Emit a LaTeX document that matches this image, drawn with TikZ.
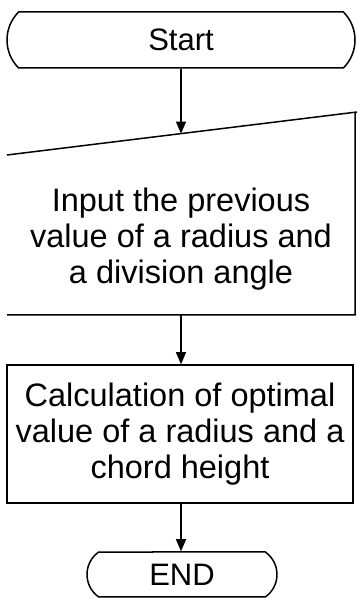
\documentclass[tikz,border=0pt]{standalone}
\usepackage{fontspec}
\setmainfont{Liberation Sans}
\usetikzlibrary{shapes.misc,arrows.meta}
\begin{document}
\begin{tikzpicture}[x=1pt,y=1pt,
  line width=1.5pt,
  term/.style={draw, rounded rectangle, inner sep=0pt, font=\fontsize{31}{36}\selectfont},
  txt/.style={align=center, inner sep=0pt, font=\fontsize{32.5}{36}\selectfont},
  arr/.style={-{Triangle[width=10pt,length=12pt]}, line width=1.3pt}]
\useasboundingbox (0,0) rectangle (357,606);
% Start
\node[term, minimum width=348pt, minimum height=56pt, rounded rectangle arc length=90] (start) at (181,566) {Start};
% manual input shape
\coordinate (inBL) at (7,291);
\coordinate (inBR) at (355,291);
\coordinate (inTR) at (357,494);
\coordinate (inTL) at (7,451);
\draw (inBL) -- (inBR) -- (355,494) (inTR) -- (inTL) -- cycle;
\coordinate (inTop) at (181,472.4);
\node[txt] (input) at (181,367) {Input the previous\\value of a radius and\\a division angle};
\coordinate (inBot) at (181,291);
% calculation box
\node[draw, minimum width=346pt, minimum height=138pt, inner sep=0pt] (calcbox) at (180,172) {};
\node[txt] (calc) at (calcbox.center) {Calculation of optimal\\value of a radius and a\\chord height};
% END
\node[term, minimum width=190pt, minimum height=45pt, rounded rectangle arc length=110] (end) at (182,31.5) {END};
% arrows
\draw[arr] (start.south) -- (inTop);
\draw[arr] (inBot) -- (calcbox.north -| inBot);
\draw[arr] (calcbox.south -| inBot) -- (end.north -| inBot);
\end{tikzpicture}
\end{document}
